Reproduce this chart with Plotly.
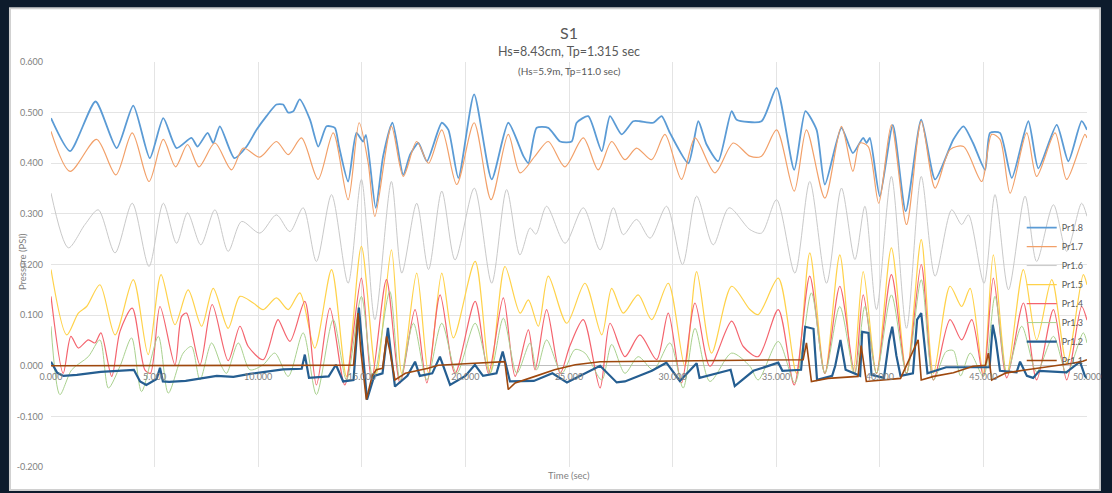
import plotly.graph_objects as go

# ---------------- data ----------------
T18 = [0, 0.92, 2.15, 3.17, 3.97, 4.77, 5.42, 6.06, 6.78, 7.07, 7.56, 7.83, 8.15, 8.85, 9.44, 9.92, 10.4, 10.88, 11.2, 11.45,
       11.7, 12.0, 12.5, 12.9, 13.3, 13.7, 13.9, 14.34, 14.74, 15.06, 15.2, 15.67, 16.03, 16.48, 17.0, 17.33, 17.73, 18.14, 18.86, 19.18,
       19.66, 20.42, 21.27, 22.07, 22.8, 23.04, 23.44, 24.0, 24.57, 25.13, 25.37, 25.93, 26.58, 26.98, 27.54, 28.1, 28.42, 29.07, 29.47, 29.87,
       30.76, 31.24, 31.64, 32.2, 32.85, 33.09, 34.29, 35.02, 35.87, 36.41, 36.95, 37.35, 38.15, 38.7, 39.2, 39.36, 39.52, 40.0, 40.63, 41.25,
       42.0, 42.67, 43.55, 44.04, 44.5, 45.08, 45.32, 45.8, 46.37, 47.17, 47.65, 48.54, 49.1, 49.74, 50.0]
P18 = [0.489, 0.424, 0.522, 0.430, 0.514, 0.410, 0.489, 0.430, 0.450, 0.433, 0.460, 0.440, 0.473, 0.410, 0.433, 0.466, 0.493, 0.516, 0.516, 0.500,
       0.503, 0.526, 0.486, 0.433, 0.473, 0.470, 0.433, 0.364, 0.460, 0.443, 0.456, 0.312, 0.414, 0.480, 0.377, 0.417, 0.440, 0.404, 0.480, 0.466,
       0.371, 0.536, 0.368, 0.480, 0.414, 0.400, 0.470, 0.470, 0.443, 0.443, 0.480, 0.493, 0.424, 0.493, 0.457, 0.483, 0.483, 0.480, 0.493, 0.460,
       0.400, 0.483, 0.437, 0.404, 0.503, 0.486, 0.483, 0.549, 0.387, 0.503, 0.466, 0.358, 0.470, 0.420, 0.450, 0.440, 0.450, 0.335, 0.476, 0.305,
       0.486, 0.368, 0.447, 0.473, 0.440, 0.387, 0.460, 0.460, 0.371, 0.483, 0.390, 0.476, 0.404, 0.483, 0.466]

T17 = [0, 0.92, 2.2, 3.13, 3.92, 4.73, 5.42, 6.01, 6.59, 7.14, 7.91, 8.71, 9.28, 10.08, 10.88, 11.45, 12.09, 12.89, 13.62, 14.34,
       14.87, 15.31, 15.63, 16.43, 17.0, 17.65, 18.22, 18.86, 19.58, 20.42, 21.24, 22.07, 22.64, 23.36, 24.0, 24.8, 25.69, 26.41, 27.06, 27.7,
       28.26, 28.99, 29.63, 30.43, 31.08, 32.04, 32.93, 33.73, 34.29, 35.02, 35.87, 36.46, 37.35, 38.15, 38.7, 39.04, 39.44, 39.95, 40.56, 41.29,
       42.0, 42.67, 43.39, 44.04, 44.92, 45.4, 45.8, 46.29, 47.09, 47.57, 48.46, 49.02, 49.9, 50.0]
P17 = [0.463, 0.384, 0.447, 0.377, 0.460, 0.364, 0.447, 0.393, 0.437, 0.393, 0.440, 0.387, 0.430, 0.412, 0.443, 0.417, 0.450, 0.368, 0.460, 0.328,
       0.480, 0.400, 0.295, 0.473, 0.374, 0.443, 0.400, 0.466, 0.358, 0.480, 0.328, 0.457, 0.381, 0.414, 0.443, 0.393, 0.450, 0.387, 0.443, 0.407,
       0.430, 0.407, 0.457, 0.368, 0.450, 0.381, 0.440, 0.414, 0.414, 0.466, 0.345, 0.466, 0.331, 0.473, 0.384, 0.440, 0.433, 0.321, 0.476, 0.279,
       0.483, 0.351, 0.427, 0.433, 0.364, 0.457, 0.447, 0.341, 0.460, 0.374, 0.460, 0.368, 0.457, 0.450]

T16 = [0, 0.84, 1.64, 2.28, 3.09, 3.92, 4.73, 5.42, 6.06, 6.59, 7.23, 7.91, 8.55, 9.2, 10.08, 10.88, 11.53, 12.17, 12.81, 13.54,
       14.34, 14.98, 15.63, 16.43, 16.93, 17.65, 18.22, 18.86, 19.5, 20.43, 21.27, 21.99, 22.63, 23.12, 23.4, 23.92, 24.81, 25.69, 26.5, 27.14,
       27.62, 28.26, 28.91, 29.71, 30.48, 31.16, 31.96, 32.73, 33.73, 34.29, 35.02, 35.9, 36.62, 37.43, 38.15, 38.8, 39.28, 39.84, 40.56, 41.29,
       42.0, 42.67, 43.47, 43.95, 44.28, 45.03, 45.56, 46.21, 47.01, 47.57, 48.38, 49.02, 49.74, 50.0]
P16 = [0.341, 0.233, 0.279, 0.308, 0.223, 0.321, 0.196, 0.321, 0.242, 0.302, 0.239, 0.308, 0.226, 0.285, 0.262, 0.298, 0.265, 0.312, 0.206, 0.338,
       0.163, 0.368, 0.091, 0.364, 0.183, 0.321, 0.190, 0.345, 0.209, 0.351, 0.163, 0.348, 0.219, 0.272, 0.260, 0.315, 0.242, 0.312, 0.229, 0.312,
       0.259, 0.289, 0.252, 0.315, 0.200, 0.335, 0.239, 0.312, 0.269, 0.262, 0.328, 0.183, 0.364, 0.163, 0.351, 0.210, 0.315, 0.111, 0.374, 0.074,
       0.374, 0.177, 0.308, 0.279, 0.298, 0.163, 0.338, 0.150, 0.335, 0.206, 0.318, 0.226, 0.321, 0.295]

T15 = [0, 0.76, 1.32, 1.72, 2.36, 3.09, 3.97, 4.69, 5.31, 5.98, 6.62, 7.27, 7.83, 8.55, 9.12, 9.76, 10.24, 10.88, 11.45, 12.01,
       12.73, 13.54, 14.26, 14.98, 15.7, 16.43, 16.93, 17.65, 18.22, 18.86, 19.42, 20.47, 21.19, 21.91, 22.64, 23.04, 23.52, 24.0, 24.89, 25.77,
       26.58, 27.06, 27.62, 28.34, 28.99, 29.79, 30.59, 31.16, 31.88, 32.85, 33.73, 34.13, 35.1, 35.98, 36.62, 37.35, 38.07, 38.71, 39.2, 39.84,
       40.56, 41.29, 42.0, 42.59, 43.39, 43.95, 44.36, 45.0, 45.48, 46.13, 46.93, 47.57, 48.3, 49.02, 49.82, 50.0]
P15 = [0.190, 0.061, 0.104, 0.117, 0.160, 0.061, 0.170, 0.022, 0.180, 0.081, 0.150, 0.078, 0.153, 0.074, 0.137, 0.124, 0.111, 0.134, 0.111, 0.144,
       0.035, 0.190, -0.021, 0.236, -0.015, 0.229, -0.015, 0.183, -0.015, 0.183, 0.055, 0.206, -0.015, 0.196, 0.104, 0.130, 0.078, 0.177, 0.084, 0.163,
       0.061, 0.153, 0.104, 0.140, 0.091, 0.163, -0.001, 0.186, 0.025, 0.157, 0.111, 0.101, 0.173, -0.015, 0.223, -0.015, 0.219, -0.015, 0.186, -0.015,
       0.233, -0.015, 0.249, -0.015, 0.157, 0.117, 0.153, -0.015, 0.219, -0.015, 0.190, 0.051, 0.170, 0.005, 0.180, 0.160]

T14 = [0, 0.59, 0.96, 1.32, 1.8, 2.12, 2.41, 2.93, 3.33, 3.92, 4.53, 4.8, 5.26, 5.98, 6.3, 6.54, 7.19, 7.78, 8.55, 9.12,
       9.52, 10.24, 10.8, 10.96, 11.53, 12.25, 12.81, 13.46, 14.18, 14.98, 15.47, 16.19, 16.85, 17.57, 18.14, 18.78, 19.5, 20.47, 21.11, 21.83,
       22.4, 23.04, 23.36, 23.92, 24.57, 25.05, 25.69, 26.5, 26.98, 27.7, 28.42, 29.23, 29.79, 30.43, 31.08, 31.8, 32.85, 33.41, 34.13, 35.1,
       35.87, 36.62, 37.35, 38.07, 38.79, 39.2, 39.84, 40.56, 41.29, 42.0, 42.59, 43.39, 43.95, 44.44, 45.0, 45.48, 46.13, 46.93, 47.57, 48.38,
       49.02, 49.74, 50.0]
P14 = [0.137, -0.015, 0.058, 0.035, 0.051, 0.045, 0.065, -0.021, 0.068, 0.114, -0.008, -0.015, 0.117, 0.002, 0.097, 0.104, 0.002, 0.121, 0.010, 0.078,
       0.038, 0.012, 0.078, 0.091, 0.048, 0.127, -0.038, 0.114, -0.038, 0.173, -0.028, 0.170, -0.034, 0.111, -0.034, 0.140, -0.015, 0.127, -0.015, 0.134,
       -0.021, 0.071, -0.008, 0.111, -0.015, 0.040, 0.091, -0.044, 0.084, 0.018, 0.061, 0.012, 0.104, -0.034, 0.124, -0.001, 0.088, 0.038, 0.018, 0.111,
       -0.038, 0.177, -0.015, 0.157, -0.015, 0.140, -0.015, 0.180, -0.015, 0.200, -0.028, 0.091, 0.051, 0.091, -0.021, 0.173, -0.024, 0.124, -0.028, 0.111,
       -0.028, 0.117, 0.090]

T13 = [0, 0.43, 1.0, 1.8, 2.36, 2.77, 3.33, 3.89, 4.37, 5.18, 5.66, 6.38, 6.78, 7.19, 7.75, 8.23, 8.47, 9.04, 9.6, 10.24,
       10.8, 11.45, 12.17, 12.81, 13.62, 14.26, 14.98, 15.55, 16.35, 16.85, 17.49, 18.14, 18.86, 19.58, 20.47, 21.19, 21.83, 22.48, 23.12, 23.44,
       23.92, 24.65, 25.29, 25.77, 26.58, 27.06, 27.7, 28.34, 29.07, 29.87, 30.51, 31.08, 31.8, 32.85, 33.73, 34.13, 35.1, 35.9, 36.7, 37.35,
       38.07, 38.79, 39.28, 39.84, 40.56, 41.29, 42.0, 42.59, 43.2, 43.55, 43.9, 44.36, 45.0, 45.56, 46.13, 46.85, 47.57, 48.38, 49.02, 49.82,
       50.0]
P13 = [0.078, -0.057, -0.008, 0.018, 0.051, -0.044, -0.001, 0.055, -0.051, 0.058, -0.054, 0.025, 0.038, -0.028, 0.045, -0.001, -0.015, 0.045, -0.008, 0.002,
       0.025, -0.021, 0.065, -0.057, 0.091, -0.028, 0.137, -0.028, 0.147, -0.028, 0.084, -0.028, 0.084, -0.015, 0.084, -0.015, 0.094, -0.015, 0.045, -0.008,
       0.051, -0.015, 0.032, 0.025, -0.028, 0.042, -0.015, 0.018, -0.008, 0.045, -0.044, 0.074, -0.031, 0.025, -0.001, -0.028, 0.048, -0.034, 0.144, -0.015,
       0.117, -0.015, 0.117, -0.015, 0.140, -0.015, 0.170, -0.028, 0.028, 0.030, -0.020, 0.025, -0.021, 0.137, -0.015, 0.078, -0.012, 0.058, -0.015, 0.065,
       0.045]

T12 = [0, 0.3, 0.6, 1.25, 2.4, 4.0, 4.3, 4.6, 5.1, 5.26, 5.4, 5.7, 6.5, 8.0, 8.8, 9.6, 11.2, 12.1, 12.25, 12.45,
       13.4, 13.75, 14.1, 14.6, 14.86, 15.0, 15.25, 15.6, 16.0, 16.26, 16.6, 17.2, 17.57, 17.8, 18.4, 18.77, 19.26, 20.0, 20.46, 20.85,
       21.5, 21.8, 22.15, 23.3, 24.2, 24.9, 26.5, 27.3, 27.7, 29.0, 29.7, 30.35, 31.16, 31.3, 32.8, 33.0, 33.9, 35.1, 35.3, 36.2,
       36.4, 36.8, 36.97, 37.7, 37.85, 38.1, 38.35, 39.05, 39.15, 39.45, 39.6, 40.2, 40.45, 40.6, 40.8, 41.0, 41.6, 41.8, 42.0, 42.3,
       43.2, 45.3, 45.45, 45.6, 45.8, 46.6, 46.77, 47.1, 47.4, 47.7, 49.0, 49.66, 49.9, 50.0]
P12 = [0.008, -0.014, -0.020, -0.018, -0.012, -0.008, -0.031, -0.038, -0.026, -0.004, -0.031, -0.032, -0.030, -0.020, -0.022, -0.016, -0.007, -0.006, 0.022, -0.024,
       -0.021, 0.002, -0.031, -0.028, 0.115, 0.050, -0.067, -0.020, -0.015, 0.075, -0.041, -0.020, 0.008, -0.020, -0.015, 0.018, -0.038, -0.020, 0.002, -0.020,
       -0.015, 0.028, -0.031, -0.030, -0.015, -0.033, 0.000, -0.033, -0.031, -0.010, 0.006, -0.030, 0.005, -0.024, -0.008, -0.040, -0.010, 0.006, -0.010, -0.008,
       0.077, 0.073, -0.028, -0.020, 0.000, 0.051, -0.008, -0.020, 0.067, 0.065, -0.018, -0.024, 0.050, 0.077, 0.020, -0.020, -0.015, 0.091, 0.104, -0.015,
       -0.003, -0.003, 0.081, 0.050, -0.010, -0.013, 0.008, -0.020, -0.024, -0.010, -0.013, 0.008, -0.020, -0.025]

T11 = [0, 14.6, 14.82, 14.95, 15.22, 15.5, 15.7, 16.0, 16.2, 16.35, 16.6, 17.1, 18.2, 18.7, 20.0, 21.9, 22.07, 22.4, 23.36, 24.3,
       25.3, 26.5, 33.5, 36.3, 36.46, 36.7, 37.5, 38.95, 39.1, 39.35, 41.0, 41.85, 42.0, 42.6, 43.55, 44.5, 45.1, 45.24, 45.4, 46.1,
       47.1, 48.4, 49.3, 49.8, 50.0]
P11 = [0.000, 0.001, 0.104, 0.030, -0.067, -0.020, -0.008, -0.005, 0.058, 0.030, -0.028, -0.015, -0.005, 0.001, 0.004, 0.008, -0.047, -0.034, -0.021, -0.008,
       0.002, 0.008, 0.011, 0.012, 0.045, -0.031, -0.025, -0.021, 0.040, -0.031, -0.025, 0.051, -0.028, -0.021, -0.014, -0.001, 0.001, 0.025, -0.028, -0.014,
       -0.008, -0.001, 0.005, 0.009, 0.012]

SERIES_NAMES = ["Pr1.8", "Pr1.7", "Pr1.6", "Pr1.5", "Pr1.4", "Pr1.3", "Pr1.2", "Pr1.1"]
X_TICKS = [0, 5, 10, 15, 20, 25, 30, 35, 40, 45, 50]
X_TICK_LABELS = ["0.000", "5.000", "10.000", "15.000", "20.000", "25.000", "30.000", "35.000", "40.000", "45.000", "50.000"]
Y_TICKS = [-0.2, -0.1, 0.0, 0.1, 0.2, 0.3, 0.4, 0.5, 0.6]
Y_TICK_LABELS = ["-0.200", "-0.100", "0.000", "0.100", "0.200", "0.300", "0.400", "0.500", "0.600"]

TITLE = "S1"
SUBTITLE1 = "Hs=8.43cm, Tp=1.315 sec"
SUBTITLE2 = "(Hs=5.9m, Tp=11.0 sec)"
X_TITLE = "Time (sec)"
Y_TITLE = "Pressure (PSI)"

# ---------------- styling ----------------
TIMES = [T18, T17, T16, T15, T14, T13, T12, T11]
VALUES = [P18, P17, P16, P15, P14, P13, P12, P11]
COLORS = ["#5B9BD5", "#F2A069", "#C9C9C9", "#FFD24A", "#F4646E", "#A9D18E", "#255E91", "#9E480E"]
WIDTHS = [1.8, 1.2, 1.0, 1.2, 1.2, 1.0, 2.2, 1.6]
SHAPES = ["spline", "spline", "spline", "spline", "spline", "spline", "linear", "linear"]
SMOOTH = [0.6, 0.8, 0.8, 0.8, 0.8, 0.8, 0, 0]

FONT = "Lato, 'Open Sans', sans-serif"
TEXT = "#595959"
TICK = "#7F7F7F"
GRID = "#E4E4E4"

fig = go.Figure()
for name, t, v, c, w, s, sm in zip(SERIES_NAMES, TIMES, VALUES, COLORS, WIDTHS, SHAPES, SMOOTH):
    line = dict(color=c, width=w, shape=s)
    if s == "spline":
        line["smoothing"] = sm
    fig.add_trace(go.Scatter(x=t, y=v, name=name, mode="lines", line=line, hoverinfo="skip"))

# helper trace so the crossing x-axis (labels at y = 0) is drawn
fig.add_trace(go.Scatter(x=[], y=[], xaxis="x2", showlegend=False, hoverinfo="skip"))

fig.update_layout(
    width=1112, height=493,
    margin=dict(l=51, r=25, t=62, b=26),
    paper_bgcolor="#0d1b2c",
    plot_bgcolor="white",
    font=dict(family=FONT, color=TEXT),
    showlegend=True,
    legend=dict(x=0.937, y=0.627, xanchor="left", yanchor="top",
                bgcolor="rgba(0,0,0,0)", font=dict(size=9, color=TEXT),
                itemwidth=30, tracegroupgap=0),
    xaxis=dict(range=[0, 50], tickvals=X_TICKS, showticklabels=False, showgrid=True,
               gridcolor=GRID, gridwidth=1, zeroline=False, showline=False, ticks=""),
    xaxis2=dict(overlaying="x", anchor="free", position=0.25, side="bottom", range=[0, 50],
                tickvals=X_TICKS, ticktext=X_TICK_LABELS, showgrid=False, zeroline=False,
                showline=False, ticks="", tickfont=dict(size=9, color=TICK), ticklabelstandoff=4),
    yaxis=dict(range=[-0.2, 0.6], tickvals=Y_TICKS, ticktext=Y_TICK_LABELS, showgrid=True,
               gridcolor=GRID, gridwidth=1, zeroline=True, zerolinecolor="#BFBFBF", zerolinewidth=1,
               showline=False, ticks="", tickfont=dict(size=9, color=TICK), ticklabelstandoff=7),
    shapes=[dict(type="rect", xref="paper", yref="paper", x0=-0.0396, x1=1.0125, y0=-0.057, y1=1.133,
                 fillcolor="white", line=dict(color="#D0D0D0", width=2), layer="below")],
    annotations=[
        dict(text=TITLE, xref="paper", yref="paper", x=0.5, y=1.074, showarrow=False,
             font=dict(size=16, color=TEXT), xanchor="center", yanchor="middle"),
        dict(text=SUBTITLE1, xref="paper", yref="paper", x=0.5, y=1.025, showarrow=False,
             font=dict(size=12.5, color=TEXT), xanchor="center", yanchor="middle"),
        dict(text=SUBTITLE2, xref="paper", yref="paper", x=0.5, y=0.978, showarrow=False,
             font=dict(size=10, color=TEXT), xanchor="center", yanchor="middle"),
        dict(text=X_TITLE, xref="paper", yref="paper", x=0.5, y=-0.02, showarrow=False,
             font=dict(size=9.5, color=TICK), xanchor="center", yanchor="middle"),
        dict(text=Y_TITLE, xref="paper", yref="paper", x=0, y=0.506, xshift=-29, showarrow=False,
             textangle=-90, font=dict(size=9.5, color=TICK), xanchor="center", yanchor="middle"),
    ],
)

fig.write_html("out.html", config={"displayModeBar": False},
               post_script="document.body.style.margin='0';")
